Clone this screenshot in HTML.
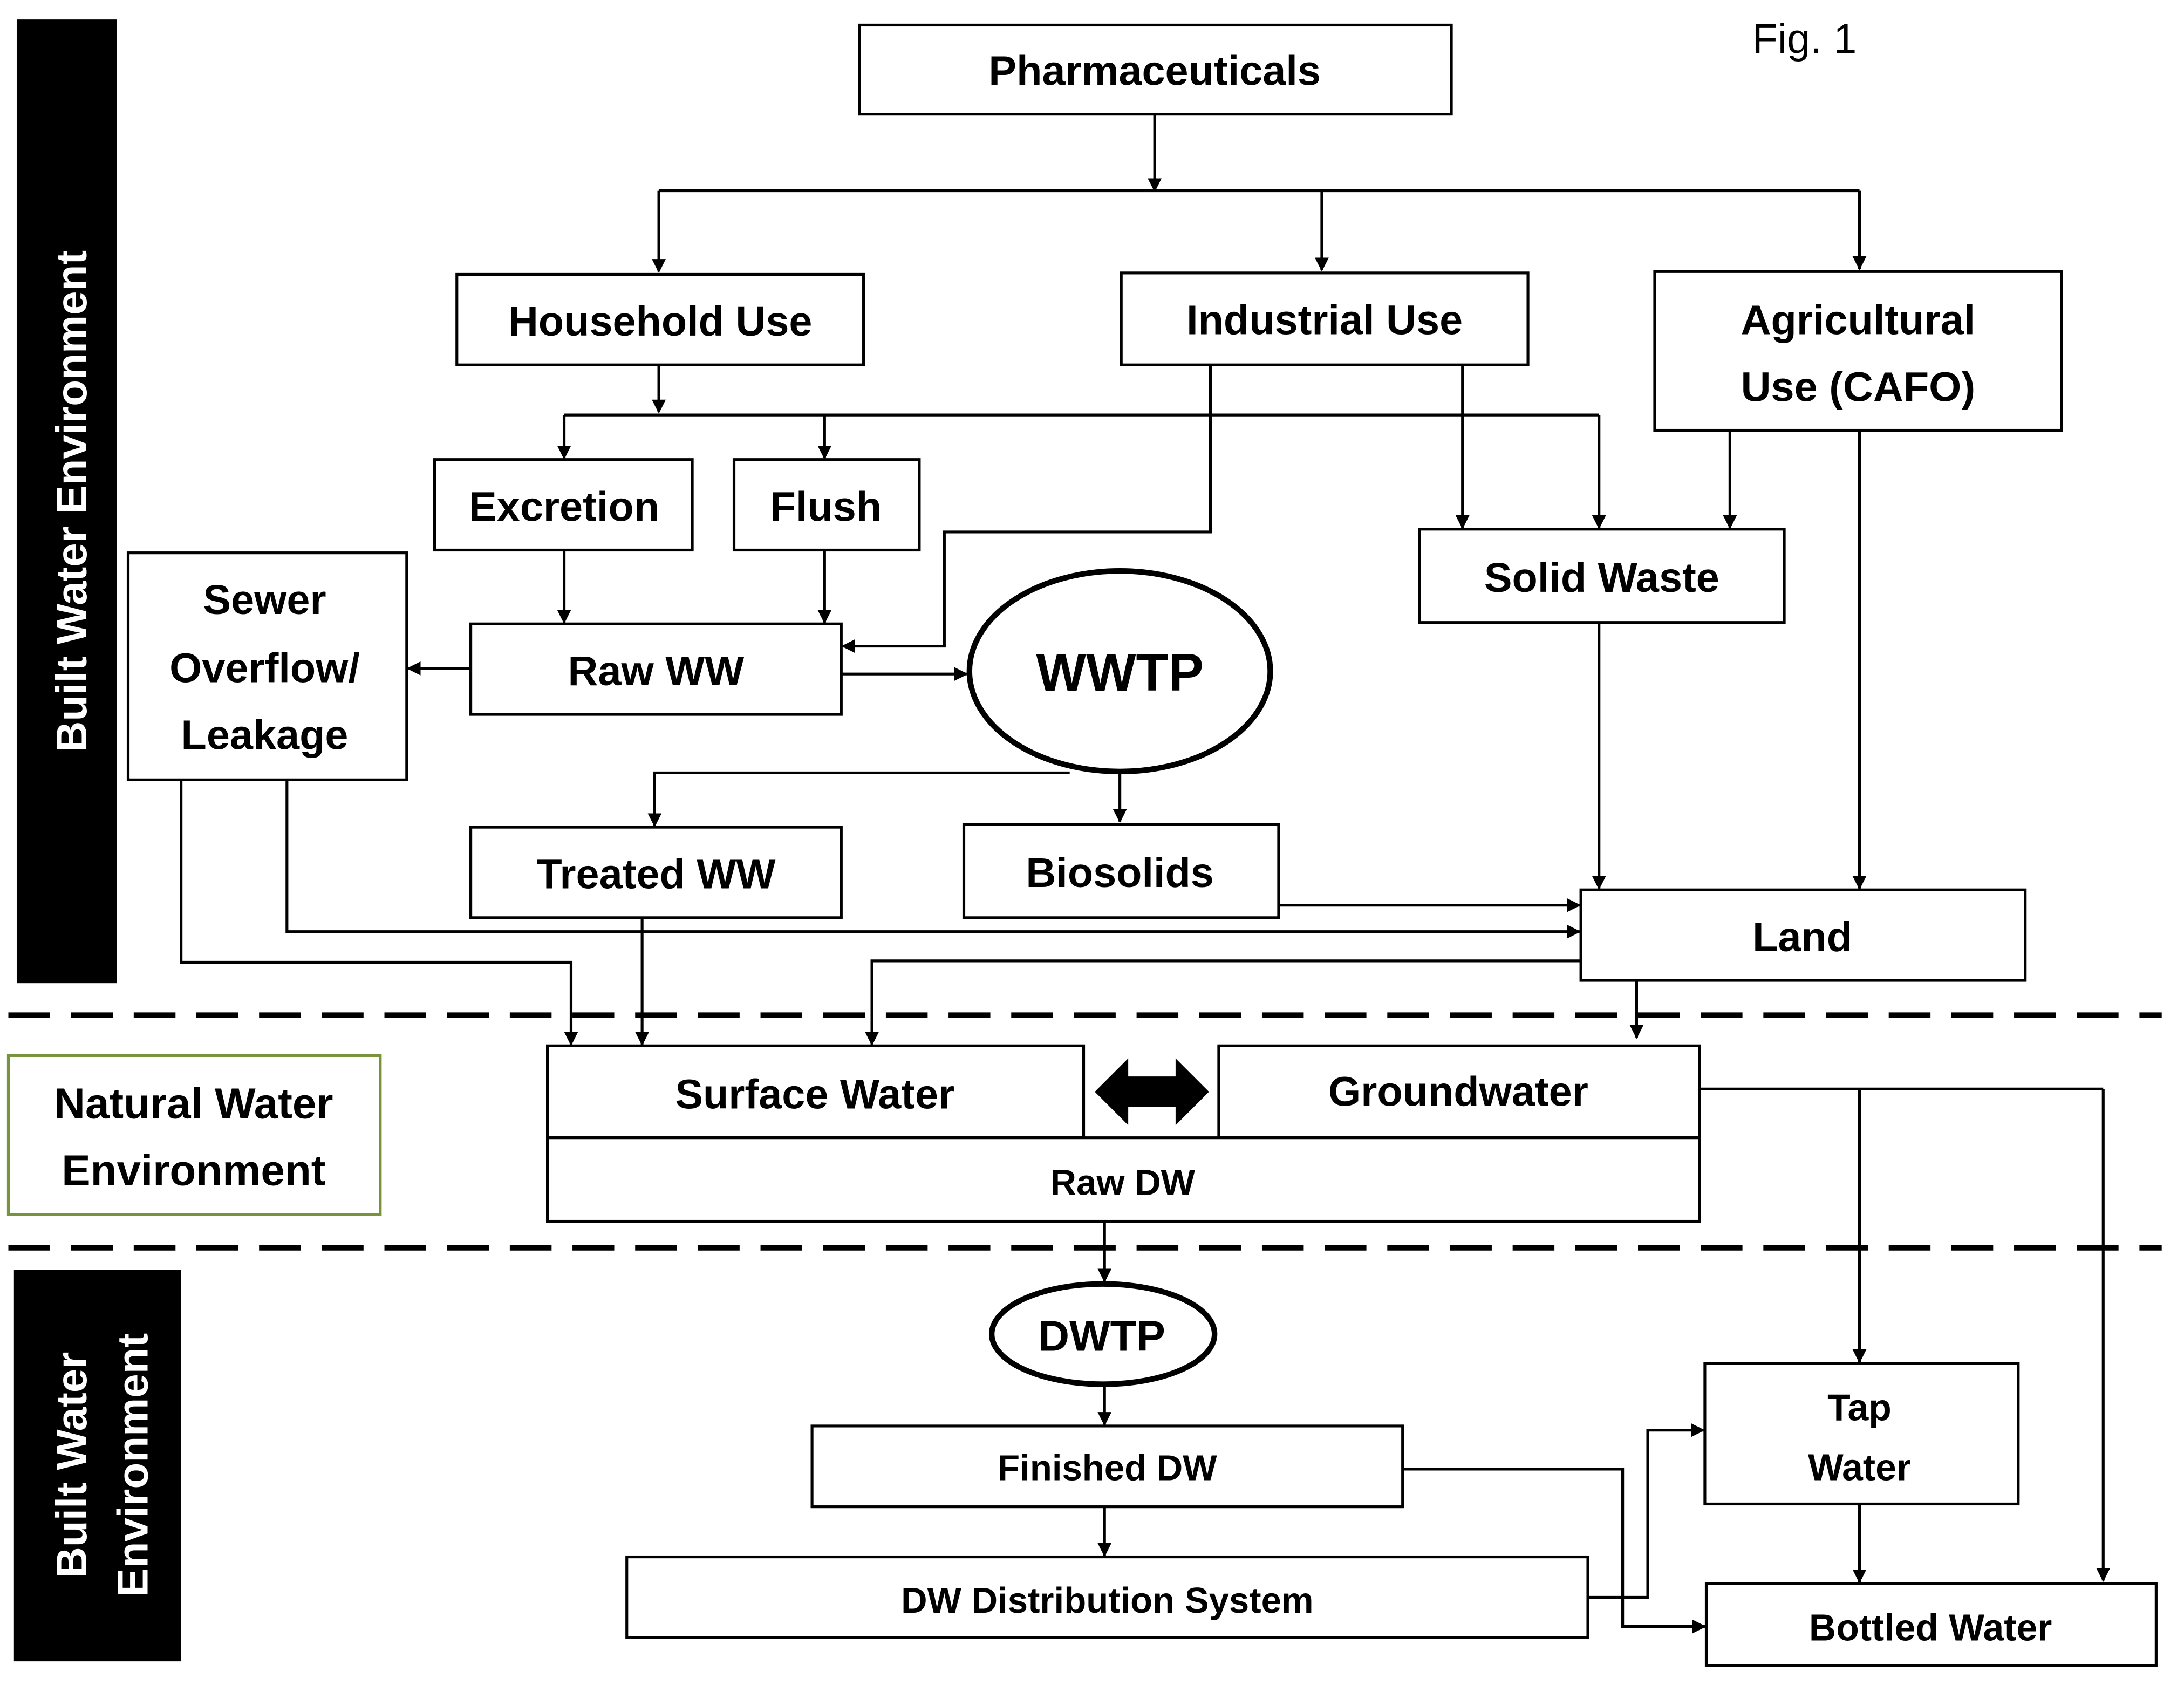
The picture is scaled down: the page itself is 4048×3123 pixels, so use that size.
<!DOCTYPE html>
<html><head><meta charset="utf-8"><style>
html,body{margin:0;padding:0;background:#fff;}
svg{display:block;}
text{font-family:"Liberation Sans",sans-serif;font-weight:bold;}
</style></head><body>
<svg width="4048" height="3123" viewBox="0 0 1568 1210" preserveAspectRatio="none" xmlns="http://www.w3.org/2000/svg">
<defs>
<marker id="a" markerWidth="10" markerHeight="10" refX="9" refY="5" orient="auto" markerUnits="userSpaceOnUse">
<path d="M0,0 L10,5 L0,10 z" fill="#000"/></marker>
</defs>
<rect width="1568" height="1210" fill="#fff"/>
<rect x="12" y="14" width="72" height="692" fill="#000"/>
<text transform="translate(62,360) rotate(-90)" text-anchor="middle" font-size="31" fill="#fff">Built Water Environment</text>
<rect x="10" y="912" width="120" height="281" fill="#000"/>
<text transform="translate(62,1052) rotate(-90)" text-anchor="middle" font-size="31" fill="#fff">Built Water</text>
<text transform="translate(106,1052) rotate(-90)" text-anchor="middle" font-size="31" fill="#fff">Environment</text>
<rect x="6" y="758" width="267" height="114" fill="#fff" stroke="#77933c" stroke-width="2"/>
<text x="139" y="803" text-anchor="middle" font-size="31">Natural Water</text>
<text x="139" y="851" text-anchor="middle" font-size="31">Environment</text>
<line x1="6" y1="729" x2="1552" y2="729" stroke="#000" stroke-width="4" stroke-dasharray="30,15"/>
<line x1="6" y1="896" x2="1552" y2="896" stroke="#000" stroke-width="4" stroke-dasharray="30,15"/>
<text x="1258" y="38" font-size="30" style="font-weight:normal">Fig. 1</text>
<g fill="#fff" stroke="#000" stroke-width="2">
<rect x="617" y="18" width="425" height="64"/>
<rect x="328" y="197" width="292" height="65"/>
<rect x="805" y="196" width="292" height="66"/>
<rect x="1188" y="195" width="292" height="114"/>
<rect x="312" y="330" width="185" height="65"/>
<rect x="527" y="330" width="133" height="65"/>
<rect x="338" y="448" width="266" height="65"/>
<rect x="92" y="397" width="200" height="163"/>
<rect x="1019" y="380" width="262" height="67"/>
<rect x="338" y="594" width="266" height="65"/>
<rect x="692" y="592" width="226" height="67"/>
<rect x="1135" y="639" width="319" height="65"/>
<rect x="393" y="751" width="385" height="66"/>
<rect x="875" y="751" width="345" height="66"/>
<rect x="393" y="817" width="827" height="60"/>
<rect x="583" y="1024" width="424" height="58"/>
<rect x="450" y="1118" width="690" height="58"/>
<rect x="1224" y="979" width="225" height="101"/>
<rect x="1225" y="1137" width="323" height="59"/>
</g>
<ellipse cx="804" cy="482" rx="108" ry="72" fill="#fff" stroke="#000" stroke-width="4"/>
<ellipse cx="792" cy="958" rx="80" ry="36" fill="#fff" stroke="#000" stroke-width="4"/>
<g fill="none" stroke="#000" stroke-width="2" marker-end="url(#a)">
<path d="M829,82 V137"/>
<path d="M473,137 H1335" marker-end="none"/>
<path d="M473,137 V195"/>
<path d="M949,137 V194"/>
<path d="M1335,137 V193"/>
<path d="M473,262 V296"/>
<path d="M405,298 H1148" marker-end="none"/>
<path d="M405,298 V329"/>
<path d="M592,298 V329"/>
<path d="M1148,298 V379"/>
<path d="M869,262 V382 H678 V464 H605"/>
<path d="M1050,262 V379"/>
<path d="M1242,309 V379"/>
<path d="M1335,309 V638"/>
<path d="M405,395 V447"/>
<path d="M592,395 V447"/>
<path d="M338,480 H293"/>
<path d="M604,484 H694"/>
<path d="M1148,447 V638"/>
<path d="M768,555 H470 V593"/>
<path d="M804,554 V590"/>
<path d="M918,650 H1134"/>
<path d="M206,560 V669 H1134"/>
<path d="M130,560 V691 H410 V750"/>
<path d="M461,659 V750"/>
<path d="M1135,690 H626 V750"/>
<path d="M1175,704 V745"/>
<path d="M1220,782 H1510" marker-end="none"/>
<path d="M1335,782 V978"/>
<path d="M1510,782 V1135"/>
<path d="M793,877 V920"/>
<path d="M793,994 V1023"/>
<path d="M793,1082 V1117"/>
<path d="M1140,1147 H1183 V1027 H1223"/>
<path d="M1007,1055 H1165 V1168 H1224"/>
<path d="M1335,1080 V1136"/>
</g>
<path d="M786,784 L810,760 V773 H844 V760 L868,784 L844,808 V795 H810 V808 Z" fill="#000"/>
<g text-anchor="middle" font-size="30">
<text x="829" y="61">Pharmaceuticals</text>
<text x="474" y="241">Household Use</text>
<text x="951" y="240">Industrial Use</text>
<text x="1334" y="240">Agricultural</text>
<text x="1334" y="288">Use (CAFO)</text>
<text x="405" y="374">Excretion</text>
<text x="593" y="374">Flush</text>
<text x="471" y="492">Raw WW</text>
<text x="190" y="441">Sewer</text>
<text x="190" y="490">Overflow/</text>
<text x="190" y="538">Leakage</text>
<text x="1150" y="425">Solid Waste</text>
<text x="471" y="638">Treated WW</text>
<text x="804" y="637">Biosolids</text>
<text x="1294" y="683">Land</text>
<text x="585" y="796">Surface Water</text>
<text x="1047" y="794">Groundwater</text>
<text x="804" y="496" font-size="38">WWTP</text>
<text x="791" y="970" font-size="31">DWTP</text>
<text x="1335" y="1020" font-size="27">Tap</text>
<text x="1335" y="1063" font-size="27">Water</text>
<text x="1386" y="1178" font-size="27">Bottled Water</text>
</g>
<g text-anchor="middle" font-size="26">
<text x="806" y="858">Raw DW</text>
<text x="795" y="1063">Finished DW</text>
<text x="795" y="1158">DW Distribution  System</text>
</g>
</svg>
</body></html>
